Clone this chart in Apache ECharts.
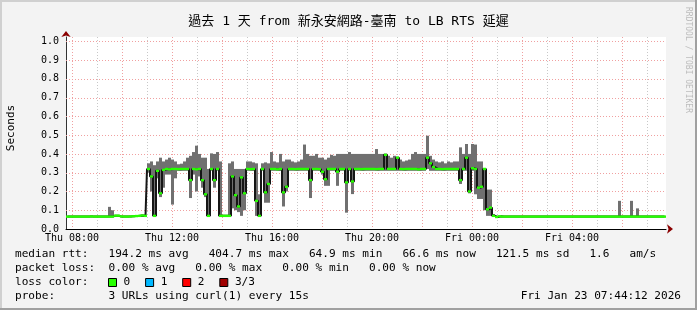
<!DOCTYPE html>
<html><head><meta charset="utf-8">
<script src="https://cdn.jsdelivr.net/npm/echarts@6/dist/echarts.min.js"></script>
<style>html,body{margin:0;padding:0;background:#f3f3f3}#c{width:697px;height:310px}</style>
</head><body><div id="c"></div>
<script>
const titleText = '過去 1 天 from 新永安網路-臺南 to LB RTS 延遲';
const yAxisName = 'Seconds';
const sideText = 'RRDTOOL / TOBI OETIKER';
const startHour = 7.76;     // Thu ~07:45
const endHour = 31.76;      // Fri ~07:45
const binHours = 0.12;      // one sample bin

// median rtt per bin (seconds)
const med = [
 .066,.066,.066,.066,.066,.066,.066,.066,.067,.066,
 .066,.066,.066,.066,.066,.066,.071,.071,.067,.066,
 .066,.067,.068,.069,.070,.072,.070,.320,.280,.070,
 .310,.190,.315,.320,.318,.320,.320,.319,.320,.320,
 .320,.260,.320,.318,.320,.260,.185,.070,.320,.260,
 .320,.070,.070,.070,.070,.280,.180,.120,.275,.190,
 .320,.319,.320,.150,.070,.320,.195,.240,.320,.320,
 .318,.320,.195,.225,.320,.320,.319,.320,.320,.320,
 .320,.260,.320,.320,.319,.305,.265,.320,.320,.320,
 .305,.320,.320,.248,.320,.253,.320,.320,.319,.320,
 .320,.320,.320,.319,.320,.320,.395,.320,.320,.320,
 .380,.320,.319,.320,.320,.320,.320,.318,.320,.320,
 .380,.350,.330,.320,.320,.319,.320,.320,.320,.320,
 .320,.260,.320,.380,.200,.324,.320,.220,.225,.320,
 .105,.114,.070,.064,.068,.066,.066,.066,.066,.066,
 .066,.066,.066,.066,.066,.066,.066,.066,.066,.066,
 .066,.066,.066,.066,.066,.066,.066,.066,.066,.066,
 .066,.066,.066,.066,.066,.066,.066,.066,.066,.066,
 .066,.066,.066,.066,.066,.066,.066,.066,.066,.066,
 .066,.066,.066,.066,.066,.066,.066,.066,.066,.066
];
// smoke low edge per bin (seconds)
const lo = [
 .064,.064,.064,.064,.064,.064,.064,.064,.064,.064,
 .064,.064,.064,.064,.064,.064,.064,.064,.064,.064,
 .064,.064,.064,.064,.064,.064,.064,.300,.200,.070,
 .270,.170,.220,.290,.290,.130,.270,.310,.310,.310,
 .310,.165,.290,.200,.280,.220,.170,.065,.310,.220,
 .310,.070,.065,.065,.065,.110,.100,.090,.070,.100,
 .310,.310,.310,.070,.065,.310,.140,.140,.310,.310,
 .310,.310,.120,.200,.310,.310,.310,.310,.310,.310,
 .310,.165,.310,.310,.310,.290,.230,.230,.310,.310,
 .230,.310,.310,.087,.310,.186,.310,.310,.310,.310,
 .310,.310,.310,.310,.310,.310,.310,.310,.310,.310,
 .310,.310,.310,.310,.310,.310,.310,.310,.310,.310,
 .320,.310,.310,.310,.310,.310,.310,.310,.310,.310,
 .310,.240,.310,.310,.190,.310,.185,.160,.160,.100,
 .070,.070,.064,.062,.064,.064,.064,.064,.064,.064,
 .064,.064,.064,.064,.064,.064,.064,.064,.064,.064,
 .064,.064,.064,.064,.064,.064,.064,.064,.064,.064,
 .064,.064,.064,.064,.064,.064,.064,.064,.064,.064,
 .064,.064,.064,.064,.064,.064,.064,.064,.064,.064,
 .064,.064,.064,.064,.064,.064,.064,.064,.064,.064
];
// smoke high edge per bin (seconds)
const hi = [
 .068,.068,.068,.068,.068,.068,.068,.068,.072,.068,
 .068,.068,.068,.068,.118,.100,.074,.074,.069,.068,
 .068,.069,.070,.071,.072,.075,.075,.350,.360,.340,
 .360,.380,.360,.370,.380,.370,.360,.345,.348,.360,
 .380,.390,.410,.444,.400,.380,.380,.320,.403,.400,
 .410,.360,.070,.070,.350,.360,.320,.320,.320,.320,
 .360,.360,.355,.350,.185,.350,.355,.350,.410,.360,
 .355,.400,.360,.370,.370,.360,.355,.360,.370,.450,
 .400,.390,.390,.400,.380,.380,.370,.380,.395,.390,
 .400,.400,.400,.400,.410,.400,.400,.400,.400,.400,
 .400,.400,.400,.426,.400,.400,.400,.390,.380,.390,
 .380,.370,.360,.365,.370,.400,.410,.400,.400,.400,
 .497,.390,.370,.360,.355,.360,.350,.360,.355,.360,
 .360,.435,.400,.453,.400,.453,.450,.360,.360,.320,
 .210,.210,.080,.068,.068,.068,.068,.068,.068,.068,
 .068,.068,.068,.068,.068,.068,.068,.068,.068,.068,
 .068,.068,.068,.068,.068,.068,.068,.068,.068,.068,
 .068,.068,.068,.068,.068,.068,.068,.068,.068,.068,
 .068,.068,.068,.068,.150,.068,.068,.068,.150,.068,
 .110,.068,.068,.068,.068,.068,.068,.068,.068,.068
];

const yGridValues = [0.1,0.2,0.3,0.4,0.5,0.6,0.7,0.8,0.9,1.0];
const xMajorHours = [8,10,12,14,16,18,20,22,24,26,28,30];
const xMinorHours = [9,11,13,15,17,19,21,23,25,27,29,31];
const xLabelHours = [8,12,16,20,24,28];
const xLabelTexts = ['Thu 08:00','Thu 12:00','Thu 16:00','Thu 20:00','Fri 00:00','Fri 04:00'];

const rttStats = ['194.2','404.7','64.9','66.6','121.5'];
const amPerS = '1.6';
const lossStats = ['0.00','0.00','0.00','0.00'];
const lossLabels = ['0','1','2','3/3'];
const lossColors = ['#26ff00','#00b8ff','#ff0000','#a00000'];
const probeText = '3 URLs using curl(1) every 15s';
const dateText = 'Fri Jan 23 07:44:12 2026';

const MONO = '"DejaVu Sans Mono","Noto Sans CJK TC",monospace';
const LEG = '11.1px ' + MONO;
const idx = med.map((_, i) => i);
const smokeData = idx.map(i => [startHour + i * binHours, lo[i], hi[i]]);
const medStep = idx.map(i => [startHour + (i + 0.5) * binHours, med[i]]);
const greenData = idx.map(i => [startHour + i * binHours, med[i]]);

function vLine(color) {
  return function (params, api) {
    const x = Math.round(api.coord([api.value(0), 0])[0]) + 0.5;
    const cs = params.coordSys;
    return {type: 'line', shape: {x1: x, y1: cs.y, x2: x, y2: cs.y + cs.height},
      style: {stroke: color, lineWidth: 1, lineDash: [1, 2]}};
  };
}
function hLine(params, api) {
  const y = Math.round(api.coord([startHour, api.value(0)])[1]) + 0.5;
  const cs = params.coordSys;
  return {type: 'line', shape: {x1: cs.x, y1: y, x2: cs.x + cs.width, y2: y},
    style: {stroke: '#f0a0a0', lineWidth: 1, lineDash: [1, 2]}};
}
function smoke(params, api) {
  const t = api.value(0);
  const a = api.coord([t, api.value(2)]);
  const b = api.coord([t + binHours, api.value(1)]);
  return {type: 'rect', shape: {x: a[0], y: a[1], width: b[0] - a[0], height: Math.max(1, b[1] - a[1])},
    style: {fill: '#707070'}};
}
function green(params, api) {
  const t = api.value(0);
  const a = api.coord([t, api.value(1)]);
  const b = api.coord([t + binHours, api.value(1)]);
  return {type: 'rect', shape: {x: a[0], y: a[1] - 1.2, width: b[0] - a[0], height: 2.4},
    style: {fill: lossColors[0]}};
}

const lines = [
  'median rtt:   ' + rttStats[0] + ' ms avg   ' + rttStats[1] + ' ms max   ' + rttStats[2] +
    ' ms min   ' + rttStats[3] + ' ms now   ' + rttStats[4] + ' ms sd   ' + amPerS + '   am/s',
  'packet loss:  ' + lossStats[0] + ' % avg   ' + lossStats[1] + ' % max   ' + lossStats[2] +
    ' % min   ' + lossStats[3] + ' % now',
  'loss color:',
  'probe:        ' + probeText
];
const lineY = [254, 268, 282, 296];
const graphic = [
  {type: 'rect', shape: {x: 0, y: 0, width: 697, height: 2}, style: {fill: '#d0d0d0'}},
  {type: 'rect', shape: {x: 0, y: 0, width: 2, height: 310}, style: {fill: '#d0d0d0'}},
  {type: 'rect', shape: {x: 0, y: 308, width: 697, height: 2}, style: {fill: '#a0a0a0'}},
  {type: 'rect', shape: {x: 695, y: 0, width: 2, height: 310}, style: {fill: '#a0a0a0'}},
  {type: 'text', x: 348.5, y: 22, style: {text: titleText, font: '13px ' + MONO, fill: '#000',
    textAlign: 'center', textVerticalAlign: 'middle'}},
  {type: 'text', x: 11, y: 128, rotation: Math.PI / 2, style: {text: yAxisName, font: '11px ' + MONO,
    fill: '#000', textAlign: 'center', textVerticalAlign: 'middle'}},
  {type: 'text', x: 688, y: 60, rotation: -Math.PI / 2, style: {text: sideText, font: '8px ' + MONO,
    fill: '#bcbcbc', textAlign: 'center', textVerticalAlign: 'middle'}},
  {type: 'text', x: 681, y: lineY[3], style: {text: dateText, font: LEG, fill: '#000',
    textAlign: 'right', textVerticalAlign: 'middle'}}
];
lines.forEach((t, k) => graphic.push({type: 'text', x: 15, y: lineY[k],
  style: {text: t, font: LEG, fill: '#000', textAlign: 'left', textVerticalAlign: 'middle'}}));
lossLabels.forEach((t, k) => {
  const bx = 108 + k * 37.1;
  graphic.push({type: 'rect', shape: {x: bx + 0.5, y: 278.5, width: 8, height: 8},
    style: {fill: lossColors[k], stroke: '#000', lineWidth: 1}});
  graphic.push({type: 'text', x: bx + 15.6, y: lineY[2], style: {text: t, font: LEG,
    fill: '#000', textAlign: 'left', textVerticalAlign: 'middle'}});
});

const chart = echarts.init(document.getElementById('c'), null, {renderer: 'canvas'});
chart.setOption({
  animation: false,
  backgroundColor: '#f3f3f3',
  grid: {left: 66, right: 31, top: 37, bottom: 81, show: true, backgroundColor: '#ffffff', borderWidth: 0},
  xAxis: [{
    type: 'value', min: startHour, max: endHour,
    axisLine: {show: true, lineStyle: {color: '#000', width: 1}},
    axisTick: {show: false}, splitLine: {show: false},
    axisLabel: {customValues: xLabelHours, margin: 4, color: '#000', fontSize: 10, fontFamily: MONO,
      formatter: v => { const k = xLabelHours.indexOf(Math.round(v)); return k >= 0 ? xLabelTexts[k] : ''; }}
  }, {
    type: 'value', min: startHour, max: endHour, position: 'bottom',
    axisLine: {show: true, lineStyle: {color: '#8b0000', width: 0}, symbol: ['none', 'arrow'],
      symbolSize: [7, 6], symbolOffset: [0, 7]},
    axisTick: {show: false}, splitLine: {show: false}, axisLabel: {show: false}
  }],
  yAxis: [{
    type: 'value', min: 0, max: 1.023, interval: 0.1,
    axisLine: {show: true, lineStyle: {color: '#333', width: 1}},
    axisTick: {show: false}, splitLine: {show: false},
    axisLabel: {margin: 7, color: '#000', fontSize: 10, fontFamily: MONO, showMaxLabel: false,
      formatter: v => (v > 1.001 ? '' : v.toFixed(1))}
  }, {
    type: 'value', min: 0, max: 1.023, position: 'left',
    axisLine: {show: true, lineStyle: {color: '#8b0000', width: 0}, symbol: ['none', 'arrow'],
      symbolSize: [7, 6], symbolOffset: [0, 6]},
    axisTick: {show: false}, splitLine: {show: false}, axisLabel: {show: false}
  }],
  series: [
    {type: 'custom', name: 'minorGrid', z: 1, silent: true, renderItem: vLine('#c8c8c8'), data: xMinorHours.map(h => [h])},
    {type: 'custom', name: 'majorGrid', z: 1, silent: true, renderItem: vLine('#f0a0a0'), data: xMajorHours.map(h => [h])},
    {type: 'custom', name: 'hGrid', z: 1, silent: true, renderItem: hLine, data: yGridValues.map(v => [v])},
    {type: 'custom', name: 'smoke', z: 2, silent: true, clip: true, renderItem: smoke, data: smokeData},
    {type: 'line', name: 'median', z: 3, silent: true, step: 'middle', symbol: 'none', clip: true,
      lineStyle: {color: '#161616', width: 2}, data: medStep},
    {type: 'custom', name: 'loss0', z: 4, silent: true, clip: true, renderItem: green, data: greenData}
  ],
  graphic: graphic
});
</script></body></html>
